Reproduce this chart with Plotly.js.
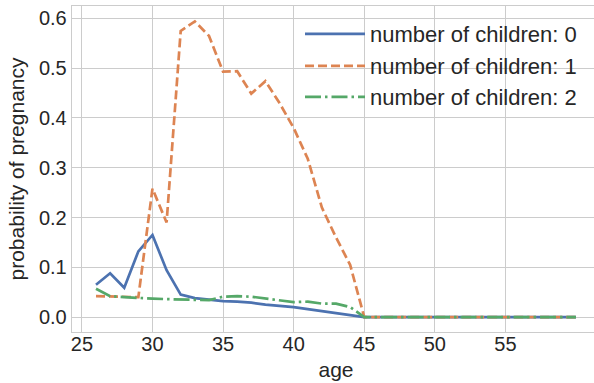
<!DOCTYPE html>
<html>
<head>
<meta charset="utf-8">
<script src="https://cdn.plot.ly/plotly-3.0.1.min.js"></script>
<style>
html, body { margin: 0; padding: 0; overflow: hidden; background: #fff; }
#chart { width: 600px; height: 383px; }
</style>
</head>
<body>
<div id="chart"></div>
<script>
const ages = [26,27,28,29,30,31,32,33,34,35,36,37,38,39,40,41,42,43,44,45,46,47,48,49,50,51,52,53,54,55,56,57,58,59,60];
const children0 = [0.065,0.088,0.059,0.132,0.165,0.094,0.045,0.038,0.035,0.032,0.031,0.029,0.025,0.023,0.020,0.016,0.012,0.009,0.005,0,0,0,0,0,0,0,0,0,0,0,0,0,0,0,0];
const children1 = [0.042,0.041,0.040,0.040,0.258,0.190,0.575,0.594,0.565,0.493,0.494,0.449,0.474,0.430,0.380,0.318,0.220,0.160,0.105,0,0,0,0,0,0,0,0,0,0,0,0,0,0,0,0];
const children2 = [0.057,0.042,0.040,0.038,0.037,0.036,0.035,0.034,0.034,0.041,0.042,0.041,0.037,0.034,0.030,0.031,0.027,0.027,0.020,0,0,0,0,0,0,0,0,0,0,0,0,0,0,0,0];
const seriesNames = ['number of children: 0','number of children: 1','number of children: 2'];
const xTicks = [25,30,35,40,45,50,55];
const yTicks = [0.0,0.1,0.2,0.3,0.4,0.5,0.6];

const font = 'Liberation Sans, Arial, sans-serif';
const textColor = '#262626';
const gridColor = '#cccccc';

const traces = [
  {x: ages, y: children0, name: seriesNames[0], mode: 'lines', line: {color: '#4C72B0', width: 2.7, dash: 'solid'}, legend: 'legend'},
  {x: ages, y: children1, name: seriesNames[1], mode: 'lines', line: {color: '#DD8452', width: 2.7, dash: '9px,4px'}, legend: 'legend2'},
  {x: ages, y: children2, name: seriesNames[2], mode: 'lines', line: {color: '#55A868', width: 2.7, dash: '16px,4px,2.5px,4px'}, legend: 'legend3'}
];

const W = 600, H = 383, ml = 72, mr = 0, mt = 6, mb = 51;
const pw = W - ml - mr, ph = H - mt - mb;
function px2x(px) { return (px - ml) / pw; }
function py2y(py) { return (H - mb - py) / ph; }
const legBase = {xanchor: 'left', yanchor: 'middle', bgcolor: 'rgba(0,0,0,0)', borderwidth: 0,
  font: {family: font, size: 22, color: textColor}, itemwidth: 60};

const layout = {
  width: W, height: H,
  margin: {l: ml, r: mr, t: mt, b: mb, pad: 0},
  paper_bgcolor: '#ffffff', plot_bgcolor: '#ffffff',
  font: {family: font, color: textColor},
  showlegend: true,
  legend: Object.assign({}, legBase, {x: px2x(300), y: py2y(34)}),
  legend2: Object.assign({}, legBase, {x: px2x(300), y: py2y(66)}),
  legend3: Object.assign({}, legBase, {x: px2x(300), y: py2y(97)}),
  xaxis: {
    range: [24.3, 61.7], tickvals: xTicks, ticktext: xTicks.map(String),
    showgrid: true, gridcolor: gridColor, gridwidth: 1,
    showline: true, linecolor: gridColor, linewidth: 1.3, mirror: true,
    zeroline: false, ticks: '', ticklen: 0, ticklabelstandoff: -6,
    tickfont: {family: font, size: 20, color: textColor},
    title: {text: 'age', font: {family: font, size: 21, color: textColor}, standoff: 8}
  },
  yaxis: {
    range: [-0.03, 0.625], tickvals: yTicks, ticktext: yTicks.map(v => v.toFixed(1)),
    showgrid: true, gridcolor: gridColor, gridwidth: 1,
    showline: true, linecolor: gridColor, linewidth: 1.3, mirror: true,
    zeroline: false, ticks: '', ticklen: 0,
    tickfont: {family: font, size: 20, color: textColor},
    title: {text: 'probability of pregnancy', font: {family: font, size: 21, color: textColor}, standoff: 8}
  }
};

Plotly.newPlot('chart', traces, layout, {displayModeBar: false, staticPlot: true});
</script>
</body>
</html>
